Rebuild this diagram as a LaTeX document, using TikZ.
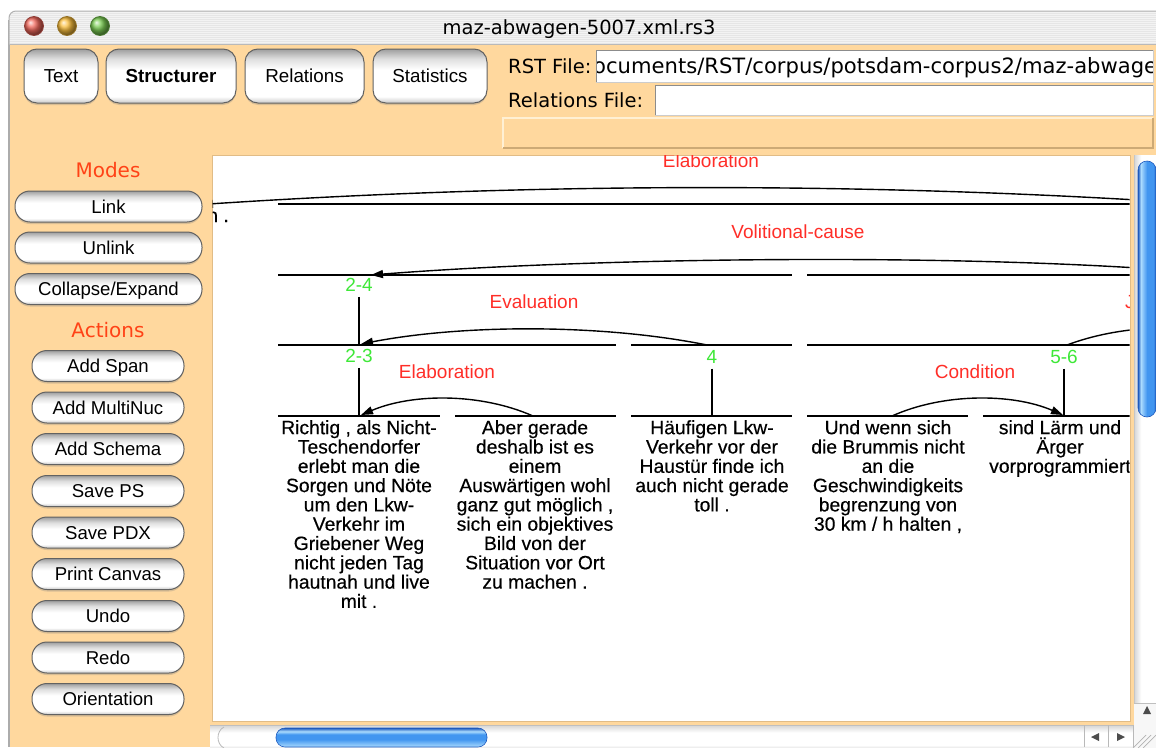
\documentclass[tikz,border=0pt]{standalone}
\usepackage{fontspec}
\setmainfont{Liberation Sans}
\newfontfamily\uifont{DejaVu Sans}
\newfontfamily\treefont[FakeBold=0.4]{Liberation Sans}
\usetikzlibrary{arrows.meta,shadows}

% palette
\definecolor{panel}{RGB}{255,216,158}
\definecolor{paneldark}{RGB}{205,170,118}
\definecolor{panellight}{RGB}{255,240,212}
\definecolor{relred}{RGB}{255,46,40}
\definecolor{modered}{RGB}{255,66,22}
\definecolor{spangreen}{RGB}{62,232,56}
\definecolor{btnedge}{RGB}{98,98,98}
\definecolor{pilltop}{RGB}{158,158,158}
\definecolor{pillmid}{RGB}{222,222,222}
\definecolor{pillbot}{RGB}{200,200,200}
\definecolor{aquadark}{RGB}{30,90,190}
\definecolor{aquamid}{RGB}{66,150,240}
\definecolor{aqualight}{RGB}{172,220,254}
\definecolor{titlegray}{RGB}{230,230,230}
\definecolor{titleline}{RGB}{243,243,243}
\definecolor{fieldedge}{RGB}{140,140,140}
\definecolor{trackgray}{RGB}{212,212,212}
\definecolor{closered}{RGB}{242,104,92}
\definecolor{minamber}{RGB}{250,190,60}
\definecolor{zoomgreen}{RGB}{122,204,82}

% Aqua-like shadings (25bp..75bp spans the filled shape)
\pgfdeclareverticalshading{aquapill}{100bp}{%
  color(0bp)=(pillbot); color(25bp)=(pillbot); color(31bp)=(white);
  color(56bp)=(white); color(66bp)=(pillmid); color(75bp)=(pilltop); color(100bp)=(pilltop)}
\pgfdeclarehorizontalshading{aquavthumb}{100bp}{%
  color(0bp)=(aquadark); color(25bp)=(aquadark); color(33bp)=(aqualight);
  color(50bp)=(aquamid); color(68bp)=(aquamid); color(75bp)=(aquadark); color(100bp)=(aquadark)}
\pgfdeclareverticalshading{aquahthumb}{100bp}{%
  color(0bp)=(aqualight); color(25bp)=(aqualight); color(45bp)=(aquamid);
  color(58bp)=(aquamid); color(66bp)=(aqualight); color(75bp)=(aquadark); color(100bp)=(aquadark)}
\pgfdeclarehorizontalshading{trackv}{100bp}{%
  color(0bp)=(trackgray); color(25bp)=(trackgray); color(40bp)=(white);
  color(70bp)=(white); color(75bp)=(trackgray); color(100bp)=(trackgray)}
\pgfdeclareverticalshading{trackh}{100bp}{%
  color(0bp)=(trackgray); color(25bp)=(trackgray); color(35bp)=(white);
  color(60bp)=(white); color(75bp)=(trackgray); color(100bp)=(trackgray)}

\begin{document}
\begin{tikzpicture}[x=1pt,y=-1pt,
  uitext/.style={font=\uifont\fontsize{19.5}{22}\selectfont, inner sep=0pt},
  sectionlabel/.style={font=\uifont\fontsize{20}{22}\selectfont, text=modered, inner sep=0pt, anchor=base},
  tabbutton/.style={draw=btnedge, line width=1pt, rounded corners=13pt, shading=aquapill,
     minimum height=54pt, font=\fontsize{18.8}{20}\selectfont, text height=15pt, text depth=1.5pt,
     inner sep=0pt, drop shadow={shadow xshift=0pt, shadow yshift=-2pt, opacity=0.3}},
  pillbutton/.style={draw=btnedge, line width=1pt, rounded corners=15pt, shading=aquapill,
     minimum height=31pt, font=\fontsize{18.6}{20}\selectfont, text height=15pt, text depth=1.5pt,
     inner sep=0pt, drop shadow={shadow xshift=0pt, shadow yshift=-2pt, opacity=0.3}},
  relname/.style={font=\fontsize{19}{20}\selectfont, text=relred, inner sep=0pt},
  spanname/.style={font=\fontsize{19}{20}\selectfont, text=spangreen, inner sep=0pt},
  edu/.style={font=\treefont\fontsize{19.3}{19.3}\selectfont, align=center, anchor=north, inner sep=0pt},
  spanline/.style={line width=1.6pt},
  relarc/.style={line width=1.4pt},
  relarrow/.style={relarc, -{Triangle[length=12pt,width=8pt]}},
  light/.style={circle, minimum size=19pt, inner sep=0pt, draw=#1!60!black, line width=0.8pt, ball color=#1},
]
\useasboundingbox (0,0) rectangle (1156,747);
\fill[white] (0,0) rectangle (1156,747);

% ---------- window body and title bar ----------
\fill[panel] (9,44) rectangle (1156,747);
\draw[gray!65, line width=1.2pt] (9,20) -- (9,747);
\fill[titlegray] (9,44) -- (9,18) arc[start angle=180, end angle=270, radius=7] -- (1160,11) -- (1160,44) -- cycle;
\begin{scope}
  \clip (9,44) -- (9,18) arc[start angle=180, end angle=270, radius=7] -- (1160,11) -- (1160,44) -- cycle;
  \foreach \yy in {12,14,...,44} \draw[titleline, line width=1pt] (9,\yy) -- (1160,\yy);
\end{scope}
\draw[gray!60, line width=1pt] (9,44) -- (9,18) arc[start angle=180, end angle=270, radius=7] -- (1160,11);
\draw[gray!55, line width=1pt] (9,44.5) -- (1160,44.5);

\node[light=closered] (closebtn) at (34,26) {};
\node[light=minamber] (minbtn) at (67,26) {};
\node[light=zoomgreen] (zoombtn) at (100,26) {};
\node[uitext, anchor=base] (title) at (579,34) {maz-abwagen-5007.xml.rs3};

% ---------- tool tabs ----------
\node[tabbutton, minimum width=74pt] (tabtext) at (61,76) {Text};
\node[tabbutton, minimum width=130pt, font=\fontsize{18.8}{20}\selectfont\bfseries] (tabstruct) at (171,76) {Structurer};
\node[tabbutton, minimum width=119pt] (tabrel) at (304.5,76) {Relations};
\node[tabbutton, minimum width=114pt] (tabstat) at (430,76) {Statistics};

% ---------- file fields ----------
\node[uitext, anchor=base west] (rstlabel) at (508,73) {RST File:};
\node[uitext, anchor=base west] (rellabel) at (508,107) {Relations File:};
\fill[white] (596,50) rectangle (1153,82);
\draw[fieldedge, line width=1pt] (596,82) -- (596,50) -- (1153,50);
\draw[gray!40, line width=0.8pt] (596,82) -- (1153,82) -- (1153,50);
\begin{scope}
  \clip (597.5,51) rectangle (1152.5,81);
  \node[uitext, font=\uifont\fontsize{21.1}{22}\selectfont, anchor=base west] (rstpath) at (593,73)
    {ocuments/RST/corpus/potsdam-corpus2/maz-abwage};
\end{scope}
\fill[white] (655,85) rectangle (1153,115);
\draw[fieldedge, line width=1pt] (655,115) -- (655,85) -- (1153,85);
\draw[gray!40, line width=0.8pt] (655,115) -- (1153,115) -- (1153,85);

% status bar
\fill[panel] (503,118) rectangle (1153,148);
\draw[panellight, line width=1.5pt] (503,148) -- (503,118) -- (1153,118);
\draw[paneldark, line width=1.5pt] (503,148) -- (1153,148) -- (1153,118);

% ---------- left tool column ----------
\node[sectionlabel] (modes) at (108,177) {Modes};
\node[pillbutton, minimum width=187pt] (blink) at (108.5,206.5) {Link};
\node[pillbutton, minimum width=187pt] (bunlink) at (108.5,247.5) {Unlink};
\node[pillbutton, minimum width=187pt] (bcollapse) at (108.5,289) {Collapse/Expand};
\node[sectionlabel] (actions) at (108,337) {Actions};
\node[pillbutton, minimum width=152pt] (bspan) at (108,366) {Add Span};
\node[pillbutton, minimum width=152pt] (bmulti) at (108,407.5) {Add MultiNuc};
\node[pillbutton, minimum width=152pt] (bschema) at (108,449) {Add Schema};
\node[pillbutton, minimum width=152pt] (bsaveps) at (108,491) {Save PS};
\node[pillbutton, minimum width=152pt] (bsavepdx) at (108,532.5) {Save PDX};
\node[pillbutton, minimum width=152pt] (bprint) at (108,574) {Print Canvas};
\node[pillbutton, minimum width=152pt] (bundo) at (108,616) {Undo};
\node[pillbutton, minimum width=152pt] (bredo) at (108,657.5) {Redo};
\node[pillbutton, minimum width=152pt] (borient) at (108,699) {Orientation};

% ---------- structure canvas ----------
\fill[white] (212,155) rectangle (1130,721);
\draw[paneldark!60!panel, line width=0.6pt] (212,155) rectangle (1130,721);
\begin{scope}
  \clip (212.5,155.5) rectangle (1129.5,720.5);

  % span bars
  \draw[spanline] (278,204) -- (1240,204);
  \draw[spanline] (278,275) -- (792,275);
  \draw[spanline] (807,275) -- (1240,275);
  \draw[spanline] (278,345) -- (616,345);
  \draw[spanline] (631,345) -- (792,345);
  \draw[spanline] (807,345) -- (1240,345);
  \draw[spanline] (278,416) -- (440,416);
  \draw[spanline] (455,416) -- (616,416);
  \draw[spanline] (631,416) -- (792,416);
  \draw[spanline] (807,416) -- (968,416);
  \draw[spanline] (983,416) -- (1240,416);

  % span numbers and their stems
  \node[spanname] (sp24) at (359,285) {2-4};
  \node[spanname] (sp23) at (359,356) {2-3};
  \node[spanname] (sp4) at (712,357) {4};
  \node[spanname] (sp56) at (1064,357) {5-6};
  \coordinate (top23) at (359,345);
  \coordinate (top2) at (359,416);
  \coordinate (top4) at (712,416);
  \coordinate (top56) at (1064,416);
  \draw[spanline] ([yshift=-5pt]sp24.south) -- (top23);
  \draw[spanline] ([yshift=-5pt]sp23.south) -- (top2);
  \draw[spanline] ([yshift=-5pt]sp4.south) -- (top4);
  \draw[spanline] ([yshift=-5pt]sp56.south) -- (top56);

  % relation names
  \node[relname] (relelabtop) at (711,161) {Elaboration};
  \node[relname] (relvol) at (798,232) {Volitional-cause};
  \node[relname] (releval) at (534,302) {Evaluation};
  \node[relname] (relelab) at (447,372) {Elaboration};
  \node[relname] (relcond) at (975,372) {Condition};
  \node[relname, anchor=west] (relright) at (1125,302) {J};

  % relation arcs, satellite to nucleus
  \coordinate (satA) at (1216,205);  \coordinate (nucA) at (201,204.5);
  \coordinate (satB) at (1228,275);  \coordinate (nucB) at (371,275);
  \coordinate (satC) at (707,345);   \coordinate (nucC) at (361,344);
  \coordinate (satD) at (533,416);   \coordinate (nucD) at (361,415);
  \coordinate (satE) at (892,416);   \coordinate (nucE) at (1063,415);
  \coordinate (satF) at (1067,345);  \coordinate (nucF) at (1270,345);
  \draw[relarrow] (satA) .. controls (882,182) and (545,182) .. (nucA);
  \draw[relarrow] (satB) .. controls (990,252) and (600,257) .. (nucB);
  \draw[relarrow] (satC) .. controls (603,324) and (465,324) .. (nucC);
  \draw[relarrow] (satD) .. controls (481,393) and (413,393) .. (nucD);
  \draw[relarrow] (satE) .. controls (943,393) and (1012,393) .. (nucE);
  \draw[relarc] (satF) .. controls (1128,322) and (1209,322) .. (nucF);

  % segment texts
  \node[anchor=base east, font=\treefont\fontsize{19.3}{20}\selectfont, inner sep=0pt] (edu1tail) at (229,222) {n .};
  \node[edu] (edu2) at (359,420) {Richtig , als Nicht-\\Teschendorfer\\erlebt man die\\Sorgen und Nöte\\um den Lkw-\\Verkehr im\\Griebener Weg\\nicht jeden Tag\\hautnah und live\\mit .};
  \node[edu] (edu3) at (535,420) {Aber gerade\\deshalb ist es\\einem\\Auswärtigen wohl\\ganz gut möglich ,\\sich ein objektives\\Bild von der\\Situation vor Ort\\zu machen .};
  \node[edu] (edu4) at (712,420) {Häufigen Lkw-\\Verkehr vor der\\Haustür finde ich\\auch nicht gerade\\toll .};
  \node[edu] (edu5) at (888,420) {Und wenn sich\\die Brummis nicht\\an die\\Geschwindigkeits\\begrenzung von\\30 km / h halten ,};
  \node[edu] (edu6) at (1060,420) {sind Lärm und\\Ärger\\vorprogrammiert};
\end{scope}

% ---------- scroll bars ----------
\shade[shading=trackv] (1134,155) rectangle (1158,703);
\draw[gray!45, line width=0.6pt] (1134,155) -- (1134,722);
\shade[shading=aquavthumb, rounded corners=9pt, draw=aquadark, line width=0.6pt] (1138,161) rectangle (1156,417);
\fill[white!94!gray] (1134,703) rectangle (1158,722);
\draw[gray!50, line width=0.6pt] (1134,703) -- (1158,703);
\fill[black!70] (1147,706) -- (1143,714) -- (1151,714) -- cycle;

\shade[shading=trackh] (210,725) rectangle (1134,750);
\draw[gray!50, line width=0.6pt] (210,725) -- (1134,725);
\draw[gray!55, line width=0.8pt] (224,748) .. controls (216,744) and (216,731) .. (224,727);
\shade[shading=aquahthumb, rounded corners=9pt, draw=aquadark, line width=0.6pt] (276,728) rectangle (487,747);
\draw[gray!55, line width=0.6pt] (1084,725) -- (1084,747);
\draw[gray!55, line width=0.6pt] (1108,725) -- (1108,747);
\draw[gray!55, line width=0.6pt] (1133,725) -- (1133,747);
\fill[black!70] (1091,737) -- (1099,733) -- (1099,741) -- cycle;
\fill[black!70] (1125,737) -- (1117,733) -- (1117,741) -- cycle;
% resize grip
\fill[white!94!gray] (1134,722) rectangle (1158,750);
\foreach \k in {0,5,10} \draw[gray!60, line width=0.7pt] (1156-\k,735) -- (1143-\k,748);
\end{tikzpicture}
\end{document}
